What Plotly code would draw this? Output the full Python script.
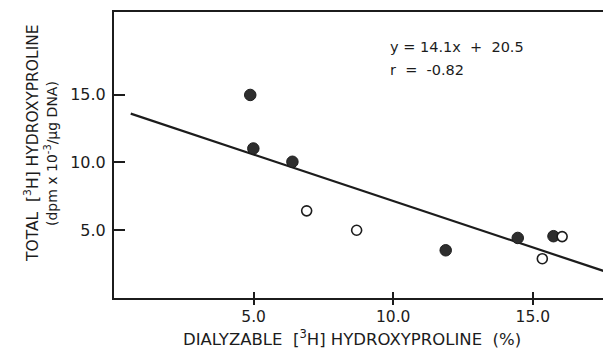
import plotly.graph_objects as go

# Filled circles
filled_x = [4.88, 4.99, 6.39, 11.88, 14.46, 15.74]
filled_y = [14.98, 11.03, 10.05, 3.52, 4.43, 4.56]
# Open circles
open_x = [6.90, 8.69, 15.34, 16.05]
open_y = [6.43, 5.00, 2.90, 4.53]
# Regression line end points
line_x = [0.6, 17.6]
line_y = [13.6, 1.95]

x_ticks = [5, 10, 15]
x_ticktext = ["5.0", "10.0", "15.0"]
y_ticks = [5, 10, 15]
y_ticktext = ["5.0", "10.0", "15.0"]

equation = "y = 14.1x  +  20.5"
corr = "r  =  -0.82"

INK = "#1c1c1c"
FONT = "DejaVu Sans"

# page body has an 8px margin; plot area in window pixels:
PL, PW, PT, PH = 114, 497, 12, 286


def px(x):
    return (x - PL) / PW


def py(y):
    return (PT + PH - y) / PH


fig = go.Figure()
fig.add_trace(go.Scatter(x=line_x, y=line_y, mode="lines",
                         line=dict(color=INK, width=2.2), showlegend=False))
fig.add_trace(go.Scatter(x=filled_x, y=filled_y, mode="markers",
                         marker=dict(size=11.5, color="#2e2e2e",
                                     line=dict(color=INK, width=1)),
                         showlegend=False))
fig.add_trace(go.Scatter(x=open_x, y=open_y, mode="markers",
                         marker=dict(size=10, color="white",
                                     line=dict(color=INK, width=1.6)),
                         showlegend=False))
fig.add_trace(go.Scatter(x=[None], y=[None], xaxis="x2", showlegend=False))

XR = [0, 17.8]
YR = [0, 21.1]

fig.update_layout(
    width=603, height=340,
    margin=dict(l=PL - 8, r=0, t=PT - 8, b=340 - (PT - 8) - PH),
    paper_bgcolor="white", plot_bgcolor="white",
    font=dict(family=FONT, color=INK),
    xaxis=dict(range=XR, showgrid=False, zeroline=False,
               showline=True, linecolor=INK, linewidth=2, mirror=True,
               ticks="inside", ticklen=6, tickwidth=1.5, tickcolor=INK,
               tickvals=x_ticks, ticktext=x_ticktext, ticklabelstandoff=3,
               tickfont=dict(size=15.5, family=FONT, color=INK)),
    xaxis2=dict(range=XR, overlaying="x", side="bottom", showgrid=False,
                zeroline=False, showline=False,
                ticks="outside", ticklen=6, tickwidth=1.5, tickcolor=INK,
                tickvals=x_ticks, showticklabels=False),
    yaxis=dict(range=YR, showgrid=False, zeroline=False,
               showline=True, linecolor=INK, linewidth=2,
               ticks="inside", ticklen=11, tickwidth=1.5, tickcolor=INK,
               tickvals=y_ticks, ticktext=y_ticktext, ticklabelstandoff=3,
               tickfont=dict(size=16, family=FONT, color=INK)),
    annotations=[
        dict(text=equation, xref="paper", yref="paper", x=px(388),
             y=py(47), xanchor="left", yanchor="middle",
             showarrow=False, font=dict(size=14.5, family=FONT, color=INK)),
        dict(text=corr, xref="paper", yref="paper", x=px(388),
             y=py(70), xanchor="left", yanchor="middle",
             showarrow=False, font=dict(size=14.5, family=FONT, color=INK)),
        dict(text="DIALYZABLE  [<sup>3</sup>H] HYDROXYPROLINE  (%)",
             xref="paper", yref="paper", x=px(352),
             y=py(338), xanchor="center", yanchor="middle",
             showarrow=False, font=dict(size=16.5, family=FONT, color=INK)),
        dict(text="TOTAL  [<sup>3</sup>H] HYDROXYPROLINE", textangle=-90,
             xref="paper", yref="paper", x=px(31),
             y=py(143), xanchor="center", yanchor="middle",
             showarrow=False, font=dict(size=15.5, family=FONT, color=INK)),
        dict(text="(dpm x 10<sup>-3</sup>/\u03bcg DNA)", textangle=-90,
             xref="paper", yref="paper", x=px(51),
             y=py(154), xanchor="center", yanchor="middle",
             showarrow=False, font=dict(size=14, family=FONT, color=INK)),
    ],
)

fig.write_html("out.html")
